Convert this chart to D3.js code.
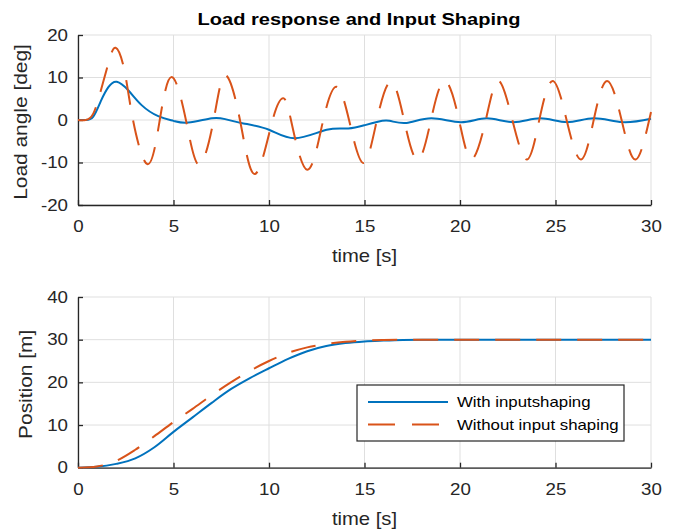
<!DOCTYPE html>
<html>
<head>
<meta charset="utf-8">
<script src="https://cdn.jsdelivr.net/npm/d3@7"></script>
<style>
  body { margin: 0; background: #fff; }
  svg { font-family: "Liberation Sans", Arial, Helvetica, sans-serif; }
  .wide { transform-box: fill-box; transform-origin: center; }
  .wide-r { transform-box: fill-box; transform-origin: right center; }
</style>
</head>
<body>
<svg id="chart" width="673" height="530"></svg>
<script>
// load angle [deg], with input shaping
const angleShapedT = [0, 0.4, 0.8, 1.2, 1.6, 2.03, 2.63, 3.33, 4.2, 5, 5.78, 7.0, 7.7, 8.66, 10, 11.36, 13.02, 14.15, 15.03, 15.7, 16.3, 17.2, 18.5, 20.05, 21.4, 22.8, 24.2, 25.6, 27.0, 28.5, 30];
const angleShapedY = [0, 0, 0.8, 4.5, 7.8, 9.0, 7.0, 3.5, 0.9, -0.2, -0.6, 0.4, 0.2, -0.8, -2.3, -4.3, -2.3, -2.0, -1.2, -0.4, -0.2, -0.7, 0.4, -0.5, 0.4, -0.5, 0.4, -0.5, 0.4, -0.5, 0.3];

// load angle [deg], without input shaping
const angleRawT = [0, 0.4, 0.8, 1.2, 1.6, 1.97, 2.43, 2.88, 3.65, 4.28, 4.9, 5.65, 6.34, 7.1, 7.7, 8.48, 9.27, 10.19, 10.75, 11.15, 12.0, 12.84, 13.54, 14.19, 14.94, 15.65, 16.39, 17.07, 17.78, 18.48, 19.2, 19.95, 20.6, 21.35, 22.0, 22.74, 23.5, 24.15, 24.85, 25.58, 26.33, 27.0, 27.7, 28.46, 29.2, 30];
const angleRawY = [0, 0, 1.5, 7, 13.5, 17.0, 11.7, 0, -10.4, 0, 10.1, 0, -10.5, 0, 10.5, 0, -12.7, 0, 5.1, 0, -11.7, 0, 7.8, 0, -10.1, 0, 9.0, 0, -9.4, 0, 9.2, 0, -9.2, 0, 9.2, 0, -9.3, 0, 9.2, 0, -9.3, 0, 9.2, 0, -9.3, 1.9];

// trolley position [m]
const posT = [0, 1, 2, 3, 4, 5, 6, 7, 8, 9, 10, 11, 12, 13, 14, 15, 16, 17, 18, 30];
const posShaped = [0, 0.2, 0.9, 2.2, 4.8, 8.4, 11.8, 15.2, 18.4, 21.0, 23.3, 25.5, 27.3, 28.5, 29.2, 29.6, 29.8, 29.95, 30, 30];
const posRaw = [0, 0.3, 1.6, 4.2, 7.4, 10.7, 13.8, 17.0, 20.0, 22.7, 25.0, 26.9, 28.2, 29.0, 29.5, 29.8, 29.95, 30, 30, 30];

const xTicks = [0, 5, 10, 15, 20, 25, 30];
const angleTicks = [-20, -10, 0, 10, 20];
const posTicks = [0, 10, 20, 30, 40];
const seriesNames = ['With inputshaping', 'Without input shaping'];

const blue = '#0072BD', orange = '#D95319', axisCol = '#262626', gridCol = '#dfdfdf';
const svg = d3.select('#chart');
const left = 78, right = 651;
const x = d3.scaleLinear().domain([0, 30]).range([left, right]);
const stretch = s => `scale(${s},1)`;

function panel(top, bottom, yDomain, yTicks, yLabel, yLabelX) {
    const y = d3.scaleLinear().domain(yDomain).range([bottom, top]);
    const g = svg.append('g');
    // grid
    g.append('g').selectAll('line').data(xTicks).enter().append('line')
        .attr('x1', d => x(d)).attr('x2', d => x(d)).attr('y1', top).attr('y2', bottom)
        .attr('stroke', gridCol);
    g.append('g').selectAll('line').data(yTicks).enter().append('line')
        .attr('x1', left).attr('x2', right).attr('y1', d => y(d)).attr('y2', d => y(d))
        .attr('stroke', gridCol);
    // axes
    const xa = g.append('g').attr('transform', `translate(0,${bottom})`)
        .call(d3.axisBottom(x).tickValues(xTicks).tickFormat(d => String(d))
            .tickSizeInner(-5).tickSizeOuter(0).tickPadding(15.5));
    const ya = g.append('g').attr('transform', `translate(${left},0)`)
        .call(d3.axisLeft(y).tickValues(yTicks).tickFormat(d => String(d))
            .tickSizeInner(-5).tickSizeOuter(0).tickPadding(10));
    [xa, ya].forEach(a => {
        a.select('.domain').attr('stroke', axisCol).attr('stroke-width', 1.3);
        a.selectAll('.tick line').attr('stroke', axisCol).attr('stroke-width', 1.3);
        a.selectAll('.tick text').attr('fill', axisCol).style('font-size', '16px');
    });
    xa.selectAll('.tick text').attr('class', 'wide').style('transform', stretch(1.17));
    ya.selectAll('.tick text').attr('class', 'wide-r').style('transform', stretch(1.17));
    g.append('text').attr('class', 'wide').attr('x', (left + right) / 2).attr('y', bottom + 57)
        .attr('text-anchor', 'middle').attr('fill', axisCol).style('font-size', '17.6px')
        .style('transform', stretch(1.15)).text('time [s]');
    g.append('g').attr('transform', `translate(${yLabelX},${(top + bottom) / 2 + 2}) rotate(-90)`)
        .append('text').attr('class', 'wide').attr('text-anchor', 'middle').attr('fill', axisCol)
        .style('font-size', '19px').style('transform', stretch(1.1)).text(yLabel);
    return {g, y};
}

// top panel
const p1 = panel(35, 205, [-20, 20], angleTicks, 'Load angle [deg]', 27);
const line1 = d3.line().x(d => x(d[0])).y(d => p1.y(d[1])).curve(d3.curveNatural);
p1.g.append('path').datum(d3.zip(angleShapedT, angleShapedY)).attr('d', line1)
    .attr('fill', 'none').attr('stroke', blue).attr('stroke-width', 2);
p1.g.append('path').datum(d3.zip(angleRawT, angleRawY)).attr('d', line1)
    .attr('fill', 'none').attr('stroke', orange).attr('stroke-width', 2).attr('stroke-dasharray', '25,16');

svg.append('text').attr('class', 'wide').attr('x', 359).attr('y', 25).attr('text-anchor', 'middle')
    .style('font-size', '16.3px').style('font-weight', 'bold').attr('fill', '#000')
    .style('transform', stretch(1.23)).text('Load response and Input Shaping');

// bottom panel
const p2 = panel(297, 467.7, [0, 40], posTicks, 'Position [m]', 32);
const line2 = d3.line().x(d => x(d[0])).y(d => p2.y(d[1])).curve(d3.curveMonotoneX);
p2.g.append('path').datum(d3.zip(posT, posShaped)).attr('d', line2)
    .attr('fill', 'none').attr('stroke', blue).attr('stroke-width', 2);
p2.g.append('path').datum(d3.zip(posT, posRaw)).attr('d', line2)
    .attr('fill', 'none').attr('stroke', orange).attr('stroke-width', 2).attr('stroke-dasharray', '25,16');

// legend
const lg = svg.append('g').attr('transform', 'translate(357,385)');
lg.append('rect').attr('width', 267).attr('height', 56)
    .attr('fill', '#fff').attr('stroke', axisCol).attr('stroke-width', 1.2);
seriesNames.forEach((name, i) => {
    const yy = 17 + i * 22.5;
    lg.append('line').attr('x1', 11).attr('x2', 91).attr('y1', yy).attr('y2', yy)
        .attr('stroke', i ? orange : blue).attr('stroke-width', 2)
        .attr('stroke-dasharray', i ? '27,17' : null);
    lg.append('text').attr('x', 100).attr('y', yy + 5.5).attr('fill', '#000')
        .style('font-size', '14.5px').style('transform-box', 'fill-box').style('transform-origin', 'left center')
        .style('transform', stretch(1.16)).text(name);
});
</script>
</body>
</html>
